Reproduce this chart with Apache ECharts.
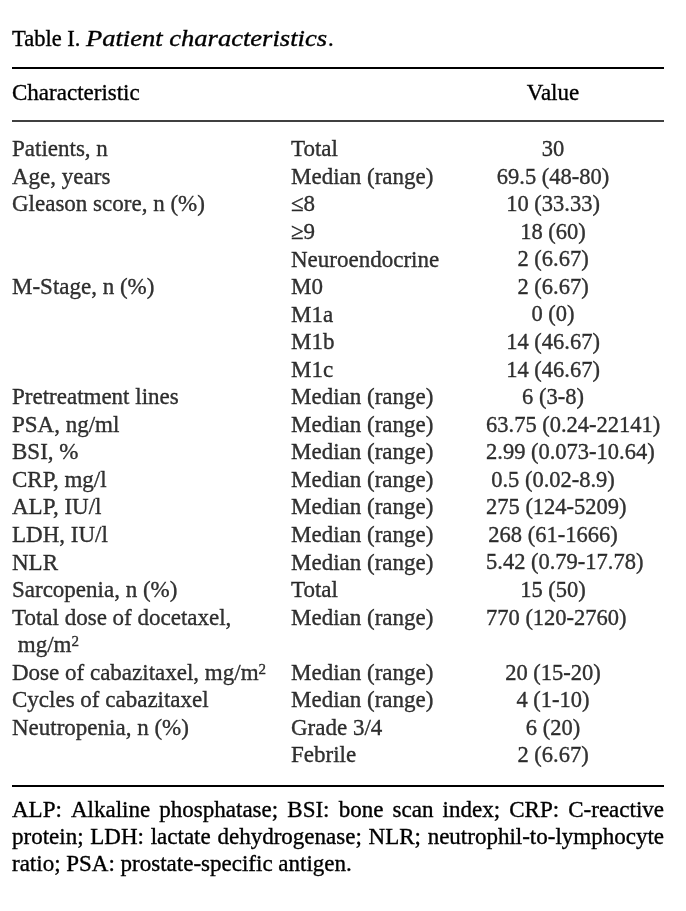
<!DOCTYPE html>
<html>
<head>
<meta charset="utf-8">
<script src="https://cdn.jsdelivr.net/npm/echarts@6/dist/echarts.min.js"></script>
<style>html,body{margin:0;padding:0;background:#fff;}#c{width:686px;height:911px;}</style>
</head>
<body>
<div id="c"></div>
<script>
// ---- table data ----
const characteristics = ['Patients, n','Age, years','Gleason score, n (%)','','','M-Stage, n (%)','','','',
  'Pretreatment lines','PSA, ng/ml','BSI, %','CRP, mg/l','ALP, IU/l','LDH, IU/l','NLR','Sarcopenia, n (%)',
  'Total dose of docetaxel,',' mg/m{sup|2}','Dose of cabazitaxel, mg/m{sup|2}','Cycles of cabazitaxel','Neutropenia, n (%)',''];
const subgroups = ['Total','Median (range)','≤8','≥9','Neuroendocrine','M0','M1a','M1b','M1c',
  'Median (range)','Median (range)','Median (range)','Median (range)','Median (range)','Median (range)','Median (range)','Total',
  'Median (range)','','Median (range)','Median (range)','Grade 3/4','Febrile'];
const values = ['30','69.5 (48-80)','10 (33.33)','18 (60)','2 (6.67)','2 (6.67)','0 (0)','14 (46.67)','14 (46.67)',
  '6 (3-8)','63.75 (0.24-22141)','2.99 (0.073-10.64)','0.5 (0.02-8.9)','275 (124-5209)','268 (61-1666)','5.42 (0.79-17.78)','15 (50)',
  '770 (120-2760)','','20 (15-20)','4 (1-10)','6 (20)','2 (6.67)'];
const headers = ['Characteristic','Value'];
const titleLabel = 'Table I.';
const titleItalic = 'Patient characteristics';
const footnoteLines = [
  'ALP: Alkaline phosphatase; BSI: bone scan index; CRP: C-reactive',
  'protein; LDH: lactate dehydrogenase; NLR; neutrophil-to-lymphocyte',
  'ratio; PSA: prostate-specific antigen.'
];

// ---- styling / layout constants ----
const FONT = '"Liberation Serif", "Times New Roman", serif';
const FS = 23, FSV = 22.5;
const INK = '#000';
const BW = 0.35; // slight stroke to match the heavier print
const LEFT = 12, RIGHT = 664;
const COL2 = 291, COL3C = 553, COL3MIN = 486;

const ctx = document.createElement('canvas').getContext('2d');
const measure = (t, f) => { ctx.font = f; return ctx.measureText(t).width; };

const rowIdx = values.map((_, i) => String(i));
const chart = echarts.init(document.getElementById('c'), null, {renderer: 'canvas'});

const rich = {sup: {fontSize: 15, verticalAlign: 'top', fontFamily: FONT, color: INK, padding: [0,0,8,0], textBorderColor: INK, textBorderWidth: BW}};
function labelSeries(arr, xFn, fs) {
  return {
    type: 'scatter', symbolSize: 0, silent: true,
    data: arr.map((t, i) => ({value: [xFn(t), String(i)], txt: t})),
    label: {
      show: true, position: 'right', distance: 0,
      align: 'left', verticalAlign: 'middle',
      fontFamily: FONT, fontSize: fs, color: INK,
      textBorderColor: INK, textBorderWidth: BW,
      formatter: p => p.data.txt, rich: rich
    }
  };
}
// value column: centred, but kept from spilling left of the column start
const valueX = t => Math.max(COL3MIN, COL3C - measure(t, FSV + 'px ' + FONT) / 2);

const txtStyle = (text, font, extra) => Object.assign({text: text, font: font, fill: INK, stroke: INK, lineWidth: BW, verticalAlign: 'middle'}, extra || {});

// justified footnote words
const footFont = FS + 'px ' + FONT;
const footGraphics = [];
footnoteLines.forEach((line, li) => {
  const y = 811 + li * 27.2;
  const justify = li < footnoteLines.length - 1;
  const words = line.split(' ');
  const widths = words.map(w => measure(w, footFont));
  const total = widths.reduce((a, b) => a + b, 0);
  const gap = justify ? (RIGHT - LEFT - total) / (words.length - 1) : measure(' ', footFont);
  let x = LEFT;
  words.forEach((w, wi) => {
    footGraphics.push({type: 'text', x: x, y: y, style: txtStyle(w, footFont)});
    x += widths[wi] + gap;
  });
});

// title: regular label + wide-set italic caption
const titleFont = '22.5px ' + FONT, titleItFont = 'italic 22.5px ' + FONT;
const tLabelW = measure(titleLabel + ' ', titleFont);
const tItStart = LEFT + tLabelW;
const tItW = measure(titleItalic, titleItFont);
const tItTarget = 327 - tItStart;
const tScale = tItTarget / tItW;
const titleGraphics = [
  {type: 'text', x: LEFT, y: 40, style: txtStyle(titleLabel + ' ', titleFont)},
  {type: 'text', x: tItStart, y: 40, scaleX: tScale, style: txtStyle(titleItalic, titleItFont)},
  {type: 'text', x: tItStart + tItTarget + 1, y: 40, style: txtStyle('.', titleFont)}
];

const rule = (y, w) => ({type: 'line', shape: {x1: LEFT, y1: y, x2: RIGHT, y2: y}, style: {stroke: '#000', lineWidth: w}});

chart.setOption({
  backgroundColor: '#fff',
  animation: false,
  grid: {left: 0, right: 0, top: 136.5, height: 23 * 27.55},
  xAxis: {type: 'value', min: 0, max: 686, show: false},
  yAxis: {type: 'category', data: rowIdx, inverse: true, show: false},
  series: [
    labelSeries(characteristics, () => LEFT, FS),
    labelSeries(subgroups, () => COL2, FS),
    labelSeries(values, valueX, FSV)
  ],
  graphic: titleGraphics.concat([
    rule(68, 2),
    {type: 'text', x: LEFT, y: 94, style: txtStyle(headers[0], FS + 'px ' + FONT)},
    {type: 'text', x: COL3C, y: 94, style: txtStyle(headers[1], FS + 'px ' + FONT, {align: 'center'})},
    rule(121, 1.6),
    rule(786, 2)
  ]).concat(footGraphics)
});
</script>
</body>
</html>
